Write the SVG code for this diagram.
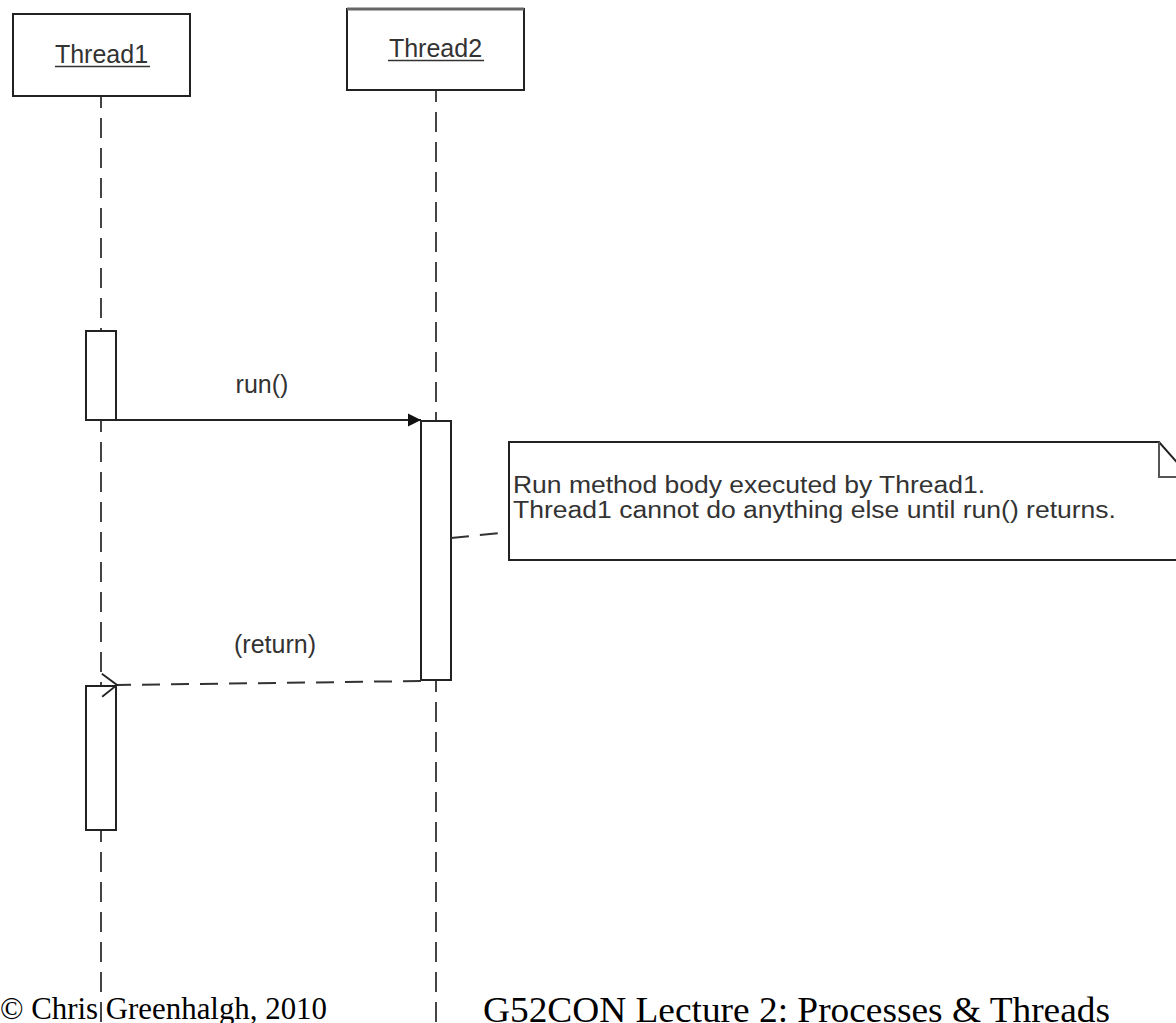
<svg xmlns="http://www.w3.org/2000/svg" width="1176" height="1023" viewBox="0 0 1176 1023">
  <style>
    .box { fill: #fff; stroke: #222; stroke-width: 2; }
    .life { fill: none; stroke: #444; stroke-width: 2; stroke-dasharray: 20 10; }
    .lbl { font-family: "Liberation Sans", Arial, sans-serif; font-size: 25px; fill: #333; }
    .note-txt { font-family: "Liberation Sans", Arial, sans-serif; font-size: 23px; fill: #333; }
    .ul { stroke: #333; stroke-width: 1.6; }
    .msg { fill: none; stroke: #222; stroke-width: 2; }
    .ret { fill: none; stroke: #333; stroke-width: 2; stroke-dasharray: 18 11; }
    .foot { font-family: "Liberation Serif", "Times New Roman", serif; fill: #000; }
  </style>
  <defs>
    <marker id="filled" markerWidth="14" markerHeight="14" refX="13" refY="7" orient="auto" markerUnits="userSpaceOnUse">
      <path d="M0,0.5 L13,7 L0,13.5 Z" fill="#111"/>
    </marker>
    <marker id="open" markerWidth="18" markerHeight="26" refX="1" refY="13" orient="auto" markerUnits="userSpaceOnUse">
      <path d="M16,1.5 L1,13 L16,24.5" fill="none" stroke="#222" stroke-width="1.8"/>
    </marker>
  </defs>

  <rect width="1176" height="1023" fill="#fff"/>

  <!-- lifelines -->
  <g id="lifelines">
    <path class="life" d="M101,96 V331" stroke-dashoffset="8"/>
    <path class="life" d="M101,420 V686" stroke-dashoffset="8"/>
    <path class="life" d="M101,830 V1023" stroke-dashoffset="8"/>
    <path class="life" d="M436,90 V421" stroke-dashoffset="8"/>
    <path class="life" d="M436,680 V1023" stroke-dashoffset="8"/>
  </g>

  <!-- participants -->
  <g id="thread1">
    <rect class="box" x="13" y="14" width="177" height="82"/>
    <text class="lbl" x="101.5" y="63" text-anchor="middle">Thread1</text>
    <line class="ul" x1="55" y1="66.5" x2="150" y2="66.5"/>
  </g>
  <g id="thread2">
    <rect class="box" x="347" y="9" width="177" height="81"/>
    <line x1="347" y1="9" x2="524" y2="9" stroke="#666" stroke-width="3"/>
    <text class="lbl" x="435.5" y="57" text-anchor="middle">Thread2</text>
    <line class="ul" x1="388" y1="60.5" x2="484" y2="60.5"/>
  </g>

  <!-- activation bars -->
  <g id="act1"><rect class="box" x="86" y="331" width="30" height="89"/></g>
  <g id="act2"><rect class="box" x="421" y="421" width="30" height="259"/></g>
  <g id="act3"><rect class="box" x="86" y="686" width="30" height="144"/></g>

  <!-- note -->
  <g id="note">
    <path class="box" d="M509,442 H1159 L1190,477 V560 H509 Z"/>
    <path d="M1159,442 V477 H1190" fill="none" stroke="#555" stroke-width="2"/>
    <text class="note-txt" x="513" y="493" textLength="472" lengthAdjust="spacingAndGlyphs">Run method body executed by Thread1.</text>
    <text class="note-txt" x="513" y="518" textLength="603" lengthAdjust="spacingAndGlyphs">Thread1 cannot do anything else until run() returns.</text>
  </g>

  <!-- connectors -->
  <g id="connectors">
    <line class="msg" x1="116" y1="420" x2="421" y2="420" marker-end="url(#filled)"/>
    <text class="lbl" x="262" y="393" text-anchor="middle">run()</text>
    <line class="ret" x1="421" y1="681" x2="117" y2="685" marker-end="url(#open)"/>
    <text class="lbl" x="275" y="653" text-anchor="middle">(return)</text>
    <line class="ret" x1="451" y1="538" x2="509" y2="532" stroke-dasharray="16 9"/>
  </g>

  <!-- footer -->
  <g id="footer">
    <text class="foot" x="0" y="1019" font-size="31" textLength="327" lengthAdjust="spacingAndGlyphs">© Chris Greenhalgh, 2010</text>
    <text class="foot" x="483" y="1022" font-size="36" textLength="627" lengthAdjust="spacingAndGlyphs">G52CON Lecture 2: Processes &amp; Threads</text>
  </g>
</svg>
